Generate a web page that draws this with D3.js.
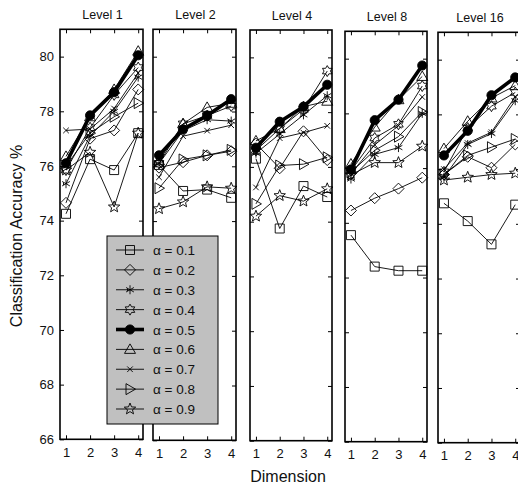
<!DOCTYPE html>
<html>
<head>
<meta charset="utf-8">
<script src="https://cdn.jsdelivr.net/npm/d3@7"></script>
<style>
  html, body { margin: 0; padding: 0; background: #fff; }
  svg { display: block; font-family: Arial, "Liberation Sans", sans-serif; }
</style>
</head>
<body>
<svg id="chart" width="518" height="489"></svg>
<script>
// Classification accuracy (%) per dimension, one panel per level, one series per alpha
const levels = ["Level 1", "Level 2", "Level 4", "Level 8", "Level 16"];
const dimensions = [1, 2, 3, 4];
const alphas = ["0.1", "0.2", "0.3", "0.4", "0.5", "0.6", "0.7", "0.8", "0.9"];
const yTicks = [66, 68, 70, 72, 74, 76, 78, 80];

const level1 = [
  [74.25, 76.25, 75.85, 77.2],
  [74.65, 77.0, 77.3, 78.8],
  [75.35, 77.1, 78.0, 79.25],
  [75.85, 77.4, 78.6, 79.6],
  [76.1, 77.85, 78.7, 80.05],
  [76.35, 77.8, 78.8, 80.2],
  [77.3, 77.35, 78.1, 79.4],
  [76.0, 77.2, 77.8, 78.3],
  [75.85, 76.5, 74.5, 77.2]
];
const level2 = [
  [76.05, 75.1, 75.15, 74.85],
  [75.95, 76.15, 76.4, 76.55],
  [76.1, 77.3, 77.7, 77.65],
  [76.1, 77.55, 77.85, 78.2],
  [76.4, 77.35, 77.85, 78.45],
  [76.2, 77.55, 78.15, 78.3],
  [75.6, 77.1, 77.3, 77.5],
  [75.2, 76.25, 76.4, 76.6],
  [74.45, 74.7, 75.25, 75.2]
];
const level4 = [
  [76.3, 73.75, 75.3, 74.9],
  [76.85, 75.95, 77.3, 76.25],
  [76.5, 77.2, 77.9, 78.6],
  [76.6, 77.4, 78.1, 79.5],
  [76.7, 77.65, 78.2, 79.0],
  [76.95, 77.4, 78.2, 78.4],
  [75.25, 77.05, 77.25, 77.5],
  [74.65, 76.05, 76.1, 76.35],
  [74.2, 74.95, 74.75, 75.2]
];
const level8 = [
  [73.55, 72.4, 72.25, 72.25],
  [74.45, 74.9, 75.25, 75.65],
  [75.6, 76.5, 76.75, 78.0],
  [75.9, 77.1, 77.6, 79.0],
  [75.95, 77.75, 78.5, 79.75],
  [76.15, 77.5, 78.5, 79.35],
  [75.8, 76.85, 77.55, 78.6],
  [75.85, 76.65, 77.15, 78.05],
  [75.75, 76.2, 76.2, 76.8]
];
const level16 = [
  [74.75, 74.1, 73.25, 74.7],
  [75.8, 76.45, 76.05, 76.9],
  [75.7, 76.9, 77.3, 78.5],
  [75.9, 77.5, 78.3, 78.8],
  [76.5, 77.4, 78.7, 79.35],
  [76.75, 77.75, 78.6, 79.05],
  [76.0, 76.95, 77.35, 78.65],
  [75.8, 76.5, 76.8, 77.1],
  [75.6, 75.7, 75.8, 75.85]
];
const panelData = [level1, level2, level4, level8, level16];

// ---- marker shapes (path strings centred on 0,0) ----
function polygon(pts) { return "M" + pts.map(p => p[0].toFixed(2) + "," + p[1].toFixed(2)).join("L") + "Z"; }
function starPts(n, ro, ri, rot) {
  const pts = [];
  for (let i = 0; i < 2 * n; i++) {
    const r = i % 2 === 0 ? ro : ri;
    const a = rot + i * Math.PI / n;
    pts.push([r * Math.sin(a), -r * Math.cos(a)]);
  }
  return pts;
}
const markers = {
  square: { d: polygon([[-4.5, -4.5], [4.5, -4.5], [4.5, 4.5], [-4.5, 4.5]]), fill: false },
  diamond: { d: polygon([[0, -5.5], [5.5, 0], [0, 5.5], [-5.5, 0]]), fill: false },
  asterisk: { d: "M0,-4.5L0,4.5M-3.9,-2.25L3.9,2.25M-3.9,2.25L3.9,-2.25M-2.5,-1.3L-2.5,1.3", fill: false },
  hexagram: { d: polygon(starPts(6, 5.5, 3.2, 0)), fill: false },
  circle: { d: "M4.6,0A4.6,4.6 0 1,1 -4.6,0A4.6,4.6 0 1,1 4.6,0Z", fill: true },
  triangle: { d: polygon([[0, -5.5], [5.5, 4], [-5.5, 4]]), fill: false },
  xmark: { d: "M-2.8,-2.8L2.8,2.8M-2.8,2.8L2.8,-2.8", fill: false },
  right: { d: polygon([[5.5, 0], [-4, -5.5], [-4, 5.5]]), fill: false },
  pentagram: { d: polygon(starPts(5, 6, 2.6, 0)), fill: false }
};
const seriesMarker = ["square", "diamond", "asterisk", "hexagram", "circle", "triangle", "xmark", "right", "pentagram"];
const seriesWidth = alphas.map(a => a === "0.5" ? 3.6 : 0.9);

// ---- layout ----
const svg = d3.select("#chart");
const panels = [
  { x0: 60, x1: 143, top: 29.3, bottom: 439.3 },
  { x0: 153, x1: 236, top: 29.3, bottom: 440.3 },
  { x0: 250, x1: 332, top: 30, bottom: 440.7 },
  { x0: 345, x1: 427, top: 31.3, bottom: 441.7 },
  { x0: 438, x1: 520, top: 32.3, bottom: 442.7 }
];

panels.forEach((p, pi) => {
  const x = d3.scaleLinear().domain([0.75, 4.2]).range([p.x0, p.x1]);
  const y = d3.scaleLinear().domain([66, 81]).range([p.bottom, p.top]);
  const g = svg.append("g");

  // panel frame with inward ticks on all sides
  const tl = 4;
  const axBottom = g.append("g").attr("transform", `translate(0,${p.bottom})`)
    .call(d3.axisBottom(x).tickValues(dimensions).tickSizeInner(-tl).tickSizeOuter(0).tickPadding(8)
      .tickFormat(d3.format("d")));
  const axTop = g.append("g").attr("transform", `translate(0,${p.top})`)
    .call(d3.axisTop(x).tickValues(dimensions).tickSizeInner(-tl).tickSizeOuter(0).tickFormat(""));
  const axLeft = g.append("g").attr("transform", `translate(${p.x0},0)`)
    .call(d3.axisLeft(y).tickValues(yTicks).tickSizeInner(-tl).tickSizeOuter(0).tickPadding(6)
      .tickFormat(pi === 0 ? d3.format("d") : ""));
  const axRight = g.append("g").attr("transform", `translate(${p.x1},0)`)
    .call(d3.axisRight(y).tickValues(yTicks).tickSizeInner(-tl).tickSizeOuter(0).tickFormat(""));
  [axBottom, axTop, axLeft, axRight].forEach(a => {
    a.select(".domain").remove();
    a.selectAll("line").attr("stroke", "#000").attr("stroke-width", 1);
    a.selectAll("text").attr("font-size", 13).attr("fill", "#111")
      .attr("font-family", "Arial, 'Liberation Sans', sans-serif");
  });
  g.append("rect").attr("x", p.x0).attr("y", p.top)
    .attr("width", p.x1 - p.x0).attr("height", p.bottom - p.top)
    .attr("fill", "none").attr("stroke", "#000").attr("stroke-width", 1.6);

  // panel title
  g.append("text").attr("x", (p.x0 + p.x1) / 2 + 1).attr("y", p.top - 10)
    .attr("text-anchor", "middle").attr("font-size", 12.5).attr("fill", "#111")
    .text(levels[pi]);

  // series lines and markers
  const line = d3.line().x((d, i) => x(dimensions[i])).y(d => y(d));
  const data = panelData[pi];
  data.forEach((vals, si) => {
    const sg = g.append("g");
    sg.append("path").attr("d", line(vals)).attr("fill", "none")
      .attr("stroke", "#000").attr("stroke-width", seriesWidth[si]).attr("stroke-linejoin", "round");
    const m = markers[seriesMarker[si]];
    sg.selectAll("path.mk").data(vals).join("path").attr("class", "mk")
      .attr("transform", (d, i) => `translate(${x(dimensions[i])},${y(d)})`)
      .attr("d", m.d)
      .attr("fill", m.fill ? "#000" : "none")
      .attr("stroke", "#000").attr("stroke-width", 0.9);
  });
});

// ---- axis titles ----
svg.append("text").attr("transform", "translate(22,236) rotate(-90)")
  .attr("text-anchor", "middle").attr("font-size", 16).attr("fill", "#111")
  .text("Classification Accuracy %");
svg.append("text").attr("x", 288).attr("y", 482)
  .attr("text-anchor", "middle").attr("font-size", 16).attr("fill", "#111")
  .text("Dimension");

// ---- legend ----
const lg = svg.append("g");
lg.append("rect").attr("x", 107).attr("y", 236).attr("width", 111).attr("height", 188)
  .attr("fill", "#c0c0c0").attr("stroke", "#000").attr("stroke-width", 1);
const ly = d3.scalePoint().domain(alphas).range([250, 409]);
alphas.forEach((a, si) => {
  const yy = ly(a);
  lg.append("line").attr("x1", 116).attr("x2", 144).attr("y1", yy).attr("y2", yy)
    .attr("stroke", "#000").attr("stroke-width", seriesWidth[si]);
  const m = markers[seriesMarker[si]];
  lg.append("path").attr("transform", `translate(130,${yy})`).attr("d", m.d)
    .attr("fill", m.fill ? "#000" : "none").attr("stroke", "#000").attr("stroke-width", 0.9);
  lg.append("text").attr("x", 153).attr("y", yy + 5).attr("font-size", 13.5).attr("fill", "#111")
    .text("α = " + a);
});
</script>
</body>
</html>
